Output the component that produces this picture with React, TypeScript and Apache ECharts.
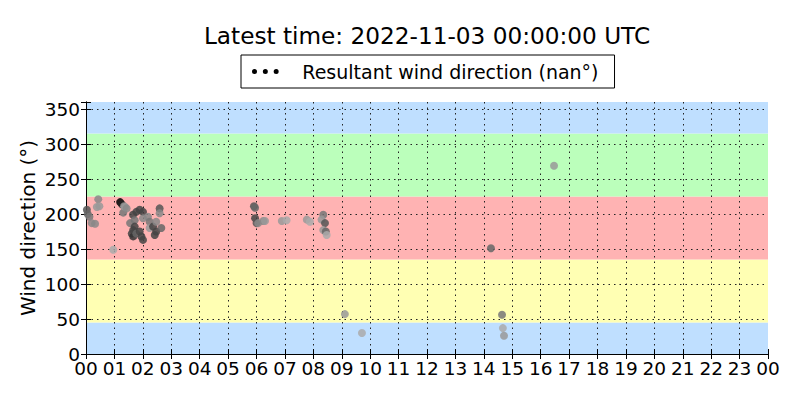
import React, { useEffect, useRef } from "react";
import * as echarts from "echarts";

// Hours since 00:00 UTC
const times: number[] = [
  0.03, 0.06, 0.12, 0.2, 0.32, 0.38, 0.43, 0.47, 0.96, 1.2, 1.26, 1.31, 1.34, 1.37, 1.43,
  1.55, 1.61, 1.654, 1.66, 1.66, 1.714, 1.714, 1.77, 1.77, 1.89, 1.89, 1.95, 2.006, 2.006, 2.006,
  2.18, 2.24, 2.24, 2.36, 2.42, 2.47, 2.47, 2.59, 2.59, 2.65,
  5.91, 5.95, 5.95, 6.0, 6.06, 6.24, 6.3, 6.89, 7.06, 7.77, 7.88, 8.35, 8.29, 8.41, 8.35, 8.44, 8.47,
  9.11, 9.71, 14.25, 14.64, 14.67, 14.71, 16.47,
];

// Wind direction (degrees)
const directions: number[] = [
  206, 200, 196, 187, 186, 210, 221, 211, 149, 217, 214, 202, 211, 210, 208,
  187, 172, 199, 168, 177, 191, 182, 203, 172, 206, 175, 168, 203, 194, 163,
  196, 189, 180, 182, 170, 189, 175, 208, 201, 180,
  211, 209, 194, 187, 187, 190, 190, 190, 191, 192, 189, 199, 192, 187, 177, 175, 170,
  57, 30, 151, 56, 37, 26, 269,
];

// Marker grey shade per point
const shades: string[] = [
  "#555", "#666", "#777", "#888", "#888", "#999", "#888", "#999", "#aaa", "#000", "#222", "#777", "#999", "#999", "#888",
  "#777", "#444", "#444", "#333", "#444", "#777", "#444", "#444", "#666", "#444", "#444", "#444", "#444", "#888", "#444",
  "#888", "#777", "#999", "#444", "#444", "#888", "#444", "#555", "#888", "#666",
  "#555", "#666", "#444", "#555", "#888", "#888", "#999", "#999", "#aaa", "#999", "#aaa", "#777", "#999", "#555", "#999", "#666", "#aaa",
  "#999", "#aaa", "#666", "#777", "#aaa", "#999", "#999",
];

// Direction bands [from, to, colour]
const bandFrom: number[] = [0, 45, 135, 225, 315];
const bandTo: number[] = [45, 135, 225, 315, 360];
const bandColors: string[] = ["#bfdfff", "#ffffb3", "#ffb3b3", "#bbffbb", "#bfdfff"];

const titleText = "Latest time: 2022-11-03 00:00:00 UTC";
const seriesName = "Resultant wind direction (nan°)";
const yName = "Wind direction (°)";

const FONT = "DejaVu Sans";

export default function App() {
  const ref = useRef<HTMLDivElement>(null);

  useEffect(() => {
    document.body.style.margin = "0";
    if (!ref.current) return;
    const chart = echarts.init(ref.current, undefined, { renderer: "svg" });

    const points = times.map((t, i) => ({
      value: [t, directions[i]],
      itemStyle: { color: shades[i] },
    }));

    const bands = bandFrom.map((f, i) => [
      { yAxis: f, itemStyle: { color: bandColors[i], opacity: 1 } },
      { yAxis: bandTo[i] },
    ]);

    const hourFmt = (v: number) => {
      const h = Math.round(v) % 24;
      return h < 10 ? "0" + h : String(h);
    };

    const splitStyle = {
      show: true,
      showMinLine: false,
      showMaxLine: false,
      lineStyle: { color: "#222", type: [1.5, 4], width: 1 },
    };
    const lineStyle = { lineStyle: { color: "#000", width: 1 } };

    chart.setOption({
      animation: false,
      textStyle: { fontFamily: FONT },
      graphic: [
        {
          type: "text",
          x: 427,
          y: 35,
          style: {
            text: titleText,
            fontSize: 23.2,
            fontFamily: FONT,
            fill: "#000",
            textAlign: "center",
            textVerticalAlign: "middle",
          },
        },
      ],
      legend: {
        left: 241,
        top: 55,
        padding: [7, 16, 7, 11],
        borderColor: "#000",
        borderWidth: 1,
        borderRadius: 0,
        itemWidth: 32,
        itemHeight: 5,
        icon: "path://M0,3a3,3 0 1,0 6,0a3,3 0 1,0 -6,0M13,3a3,3 0 1,0 6,0a3,3 0 1,0 -6,0M26,3a3,3 0 1,0 6,0a3,3 0 1,0 -6,0",
        itemStyle: { color: "#000", opacity: 1 },
        textStyle: { fontSize: 19, fontFamily: FONT, color: "#000", padding: [0, 0, 0, 16] },
        data: [seriesName],
      },
      grid: { left: 86, right: 32, top: 102, bottom: 46, containLabel: false },
      xAxis: [
        {
          type: "value",
          min: 0,
          max: 24,
          interval: 1,
          position: "bottom",
          z: 2,
          axisLine: { show: true, ...lineStyle },
          axisTick: { show: true, inside: true, length: 5, ...lineStyle },
          axisLabel: { fontSize: 18.5, fontFamily: FONT, color: "#000", margin: 5, formatter: hourFmt },
          splitLine: splitStyle,
        },
        {
          type: "value",
          min: 0,
          max: 24,
          interval: 1,
          position: "top",
          z: 2,
          axisLine: { show: true, ...lineStyle },
          axisTick: { show: true, inside: true, length: 5, ...lineStyle },
          axisLabel: { show: false },
          splitLine: { show: false },
        },
      ],
      yAxis: [
        {
          type: "value",
          min: 0,
          max: 360,
          interval: 50,
          position: "left",
          z: 2,
          name: yName,
          nameLocation: "middle",
          nameGap: 48,
          nameMoveOverlap: false,
          nameTextStyle: { fontSize: 20, fontFamily: FONT, color: "#000" },
          axisLine: { show: true, ...lineStyle },
          axisTick: { show: true, inside: true, length: 5, ...lineStyle },
          axisLabel: {
            fontSize: 18.5,
            fontFamily: FONT,
            color: "#000",
            margin: 6,
            formatter: (v: number) => (v > 350 ? "" : String(v)),
          },
          splitLine: splitStyle,
        },
        {
          type: "value",
          min: 0,
          max: 360,
          interval: 50,
          position: "right",
          z: 2,
          axisLine: { show: true, ...lineStyle },
          axisTick: { show: true, inside: true, length: 5, ...lineStyle },
          axisLabel: { show: false },
          splitLine: { show: false },
        },
      ],
      series: [
        {
          name: "bands",
          type: "scatter",
          data: [],
          z: 0,
          silent: true,
          markArea: { silent: true, z: 1, data: bands },
        },
        {
          name: seriesName,
          type: "scatter",
          z: 3,
          symbol: "circle",
          symbolSize: 8,
          itemStyle: { color: "#000", opacity: 0.85 },
          data: points,
        },
      ],
    });

    return () => chart.dispose();
  }, []);

  return <div ref={ref} style={{ width: 800, height: 400 }} />;
}
